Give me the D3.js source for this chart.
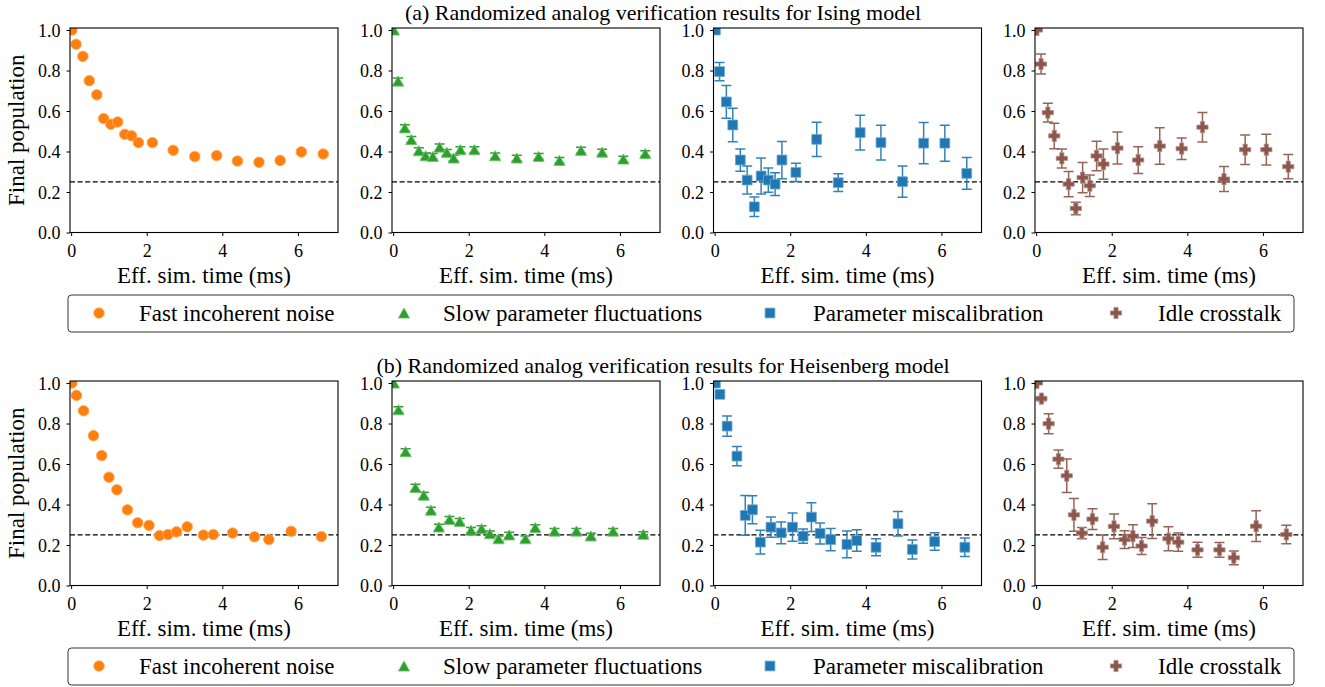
<!DOCTYPE html>
<html><head><meta charset="utf-8">
<script src="https://cdn.jsdelivr.net/npm/d3@7"></script>
<style>
body{margin:0;background:#fff;}
svg text{font-family:"Liberation Serif","DejaVu Serif",serif;fill:#000;}
</style></head><body>
<svg id="chart" width="1325" height="687"></svg>
<script>
// ---------------- DATA ----------------
const seriesNames = ["Fast incoherent noise", "Slow parameter fluctuations", "Parameter miscalibration", "Idle crosstalk"];
const seriesColors = ["#ff7f0e", "#2ca02c", "#1f77b4", "#8c564b"];
const rowTitles = ["(a) Randomized analog verification results for Ising model",
                   "(b) Randomized analog verification results for Heisenberg model"];
const xTicks = [0, 2, 4, 6];
const yTicks = [0.0, 0.2, 0.4, 0.6, 0.8, 1.0];
const baseline = 0.25;

// Ising model
const timesIsing = [0.02, 0.13, 0.31, 0.48, 0.68, 0.86, 1.05, 1.23, 1.42, 1.6, 1.78, 2.15, 2.7, 3.27, 3.85, 4.4, 4.97, 5.53, 6.09, 6.67];
const fastIsing = [1.0, 0.93, 0.87, 0.75, 0.68, 0.563, 0.535, 0.546, 0.485, 0.478, 0.444, 0.444, 0.406, 0.375, 0.38, 0.353, 0.347, 0.356, 0.398, 0.388];
const fastIsingErr = [0, 0.008, 0.008, 0.008, 0.008, 0.008, 0.008, 0.008, 0.008, 0.008, 0.008, 0.008, 0.008, 0.008, 0.008, 0.008, 0.008, 0.008, 0.008, 0.008];
const slowIsing = [1.0, 0.748, 0.517, 0.459, 0.404, 0.379, 0.376, 0.422, 0.396, 0.368, 0.409, 0.409, 0.379, 0.368, 0.376, 0.356, 0.406, 0.397, 0.363, 0.39];
const slowIsingErr = [0, 0.015, 0.015, 0.015, 0.015, 0.014, 0.014, 0.015, 0.014, 0.014, 0.015, 0.014, 0.014, 0.014, 0.014, 0.014, 0.015, 0.014, 0.014, 0.014];
const miscalIsing = [1.0, 0.795, 0.645, 0.531, 0.358, 0.259, 0.127, 0.279, 0.259, 0.239, 0.358, 0.297, 0.46, 0.246, 0.493, 0.444, 0.251, 0.441, 0.441, 0.292];
const miscalIsingErr = [0, 0.045, 0.081, 0.083, 0.055, 0.069, 0.048, 0.089, 0.06, 0.056, 0.092, 0.045, 0.085, 0.044, 0.086, 0.086, 0.077, 0.102, 0.089, 0.079];
const crossIsing = [1.0, 0.832, 0.592, 0.477, 0.366, 0.239, 0.119, 0.271, 0.231, 0.378, 0.338, 0.417, 0.358, 0.427, 0.414, 0.52, 0.264, 0.409, 0.409, 0.325];
const crossIsingErr = [0, 0.049, 0.046, 0.063, 0.047, 0.062, 0.031, 0.075, 0.053, 0.073, 0.075, 0.079, 0.066, 0.09, 0.053, 0.073, 0.062, 0.073, 0.076, 0.06];

// Heisenberg model
const timesHeis = [0.02, 0.14, 0.33, 0.59, 0.81, 1.0, 1.21, 1.49, 1.76, 2.06, 2.34, 2.56, 2.79, 3.07, 3.5, 3.76, 4.27, 4.85, 5.23, 5.82, 6.62];
const fastHeis = [1.0, 0.939, 0.863, 0.74, 0.642, 0.535, 0.473, 0.374, 0.31, 0.297, 0.247, 0.252, 0.265, 0.29, 0.249, 0.252, 0.259, 0.241, 0.227, 0.268, 0.242];
const fastHeisErr = [0, 0.008, 0.008, 0.008, 0.008, 0.008, 0.008, 0.008, 0.008, 0.008, 0.008, 0.008, 0.008, 0.008, 0.008, 0.008, 0.008, 0.008, 0.008, 0.008, 0.008];
const slowHeis = [1.0, 0.868, 0.661, 0.484, 0.446, 0.372, 0.289, 0.327, 0.317, 0.273, 0.281, 0.256, 0.231, 0.25, 0.231, 0.286, 0.269, 0.269, 0.245, 0.269, 0.253];
const slowHeisErr = [0, 0.015, 0.015, 0.016, 0.015, 0.015, 0.014, 0.014, 0.014, 0.014, 0.014, 0.013, 0.013, 0.013, 0.013, 0.014, 0.013, 0.013, 0.013, 0.013, 0.013];
const miscalHeis = [1.0, 0.944, 0.787, 0.639, 0.346, 0.374, 0.214, 0.288, 0.26, 0.288, 0.244, 0.338, 0.257, 0.227, 0.203, 0.222, 0.189, 0.305, 0.178, 0.217, 0.189];
const miscalHeisErr = [0, 0.01, 0.05, 0.048, 0.098, 0.069, 0.059, 0.05, 0.054, 0.07, 0.035, 0.071, 0.052, 0.055, 0.066, 0.053, 0.042, 0.061, 0.047, 0.043, 0.046];
const crossHeis = [1.0, 0.923, 0.799, 0.624, 0.542, 0.349, 0.259, 0.328, 0.189, 0.292, 0.227, 0.244, 0.195, 0.318, 0.231, 0.214, 0.176, 0.176, 0.137, 0.293, 0.252];
const crossHeisErr = [0, 0.01, 0.049, 0.045, 0.083, 0.081, 0.028, 0.051, 0.06, 0.061, 0.044, 0.056, 0.042, 0.086, 0.059, 0.045, 0.037, 0.036, 0.034, 0.076, 0.046];

// ---------------- LAYOUT ----------------
const rows = [
  { title: rowTitles[0], times: timesIsing,
    vals: [fastIsing, slowIsing, miscalIsing, crossIsing],
    errs: [fastIsingErr, slowIsingErr, miscalIsingErr, crossIsingErr] },
  { title: rowTitles[1], times: timesHeis,
    vals: [fastHeis, slowHeis, miscalHeis, crossHeis],
    errs: [fastHeisErr, slowHeisErr, miscalHeisErr, crossHeisErr] }
];
const svg = d3.select("#chart");
const PW = 268, PH = 204.5;
const panelLefts = [70, 392, 713.5, 1035];
const rowTops = [28, 381];
const xDomain = [-0.03, 7.06], yDomain = [0, 1.01];
const FONT_TICK = 18, FONT_LABEL = 23;

function lighten(c, k) { return d3.interpolateRgb(c, "#ffffff")(k); }

function markerPath(kind) {
  if (kind === 0) { const r = 5.3; return `M${r},0A${r},${r},0,1,1,${-r},0A${r},${r},0,1,1,${r},0Z`; }
  if (kind === 1) { const w = 5.6, h = 5.1; return `M0,${-h}L${w},${h}L${-w},${h}Z`; }
  if (kind === 2) { const s = 4.9; return `M${-s},${-s}H${s}V${s}H${-s}Z`; }
  const a = 5.6, b = 2.1;
  return `M${-b},${-a}H${b}V${-b}H${a}V${b}H${b}V${a}H${-b}V${b}H${-a}V${-b}H${-b}Z`;
}

rows.forEach((row, ri) => {
  const top = rowTops[ri];
  svg.append("text").attr("x", 663).attr("y", top - 8)
    .attr("text-anchor", "middle").style("font-size", "22px").text(row.title);

  row.vals.forEach((vals, ci) => {
    const left = panelLefts[ci];
    const color = seriesColors[ci];
    const x = d3.scaleLinear().domain(xDomain).range([left, left + PW]);
    const y = d3.scaleLinear().domain(yDomain).range([top + PH, top]);
    const g = svg.append("g");
    const clipId = `clip-${ri}-${ci}`;
    svg.append("clipPath").attr("id", clipId).append("rect")
      .attr("x", left).attr("y", top).attr("width", PW).attr("height", PH);

    // axes
    const xAx = d3.axisBottom(x).tickValues(xTicks).tickFormat(d3.format("d")).tickSize(3.5).tickSizeOuter(0).tickPadding(4);
    const yAx = d3.axisLeft(y).tickValues(yTicks).tickFormat(d3.format(".1f")).tickSize(3.5).tickSizeOuter(0).tickPadding(6);
    const gx = g.append("g").attr("transform", `translate(0,${top + PH})`).call(xAx);
    const gy = g.append("g").attr("transform", `translate(${left},0)`).call(yAx);
    [gx, gy].forEach(a => {
      a.attr("font-family", null).attr("font-size", null);
      a.select(".domain").remove();
      a.selectAll(".tick line").attr("stroke", "#000").attr("stroke-width", 1);
      a.selectAll(".tick text").style("font-size", FONT_TICK + "px").attr("fill", "#000");
    });
    gx.selectAll(".tick text").attr("dy", "0.95em");
    gy.selectAll(".tick text").attr("dy", "0.34em");

    const plot = g.append("g").attr("clip-path", `url(#${clipId})`);
    // reference line
    plot.append("line").attr("x1", left).attr("x2", left + PW)
      .attr("y1", y(baseline)).attr("y2", y(baseline))
      .attr("stroke", "#000").attr("stroke-width", 1.3).attr("stroke-dasharray", "5,2.6");

    const pts = vals.map((v, i) => ({ t: row.times[i], v, e: row.errs[ci][i] }));
    const ecol = ci >= 2 ? lighten(color, 0.08) : color;
    const eb = plot.selectAll(".eb").data(pts.filter(d => d.e > 0)).enter().append("g");
    eb.append("line").attr("x1", d => x(d.t)).attr("x2", d => x(d.t))
      .attr("y1", d => y(d.v - d.e)).attr("y2", d => y(d.v + d.e))
      .attr("stroke", ecol).attr("stroke-width", 1.5);
    [-1, 1].forEach(sg => {
      eb.append("line").attr("x1", d => x(d.t) - 5).attr("x2", d => x(d.t) + 5)
        .attr("y1", d => y(d.v + sg * d.e)).attr("y2", d => y(d.v + sg * d.e))
        .attr("stroke", ecol).attr("stroke-width", 1.5);
    });
    plot.selectAll(".mk").data(pts).enter().append("path")
      .attr("d", markerPath(ci))
      .attr("transform", d => `translate(${x(d.t)},${y(d.v)})`)
      .attr("fill", color).attr("stroke", lighten(color, 0.35)).attr("stroke-width", 0.8);

    // frame
    g.append("rect").attr("x", left).attr("y", top).attr("width", PW).attr("height", PH)
      .attr("fill", "none").attr("stroke", "#000").attr("stroke-width", 1.1);

    // x label
    g.append("text").attr("x", left + PW / 2).attr("y", top + 255)
      .attr("text-anchor", "middle").style("font-size", FONT_LABEL + "px").text("Eff. sim. time (ms)");
    if (ci === 0) {
      g.append("text").attr("transform", `translate(24,${top + PH / 2}) rotate(-90)`)
        .attr("text-anchor", "middle").style("font-size", FONT_LABEL + "px").text("Final population");
    }
  });

  // legend
  const ly = top + 267;
  const lg = svg.append("g");
  lg.append("rect").attr("x", 68).attr("y", ly).attr("width", 1226).attr("height", 37)
    .attr("rx", 3.5).attr("fill", "#fff").attr("stroke", "#333").attr("stroke-width", 1);
  const legX = [99, 404, 770, 1116];
  const legTextX = [139, 443, 813, 1158];
  seriesNames.forEach((name, i) => {
    lg.append("path").attr("d", markerPath(i))
      .attr("transform", `translate(${legX[i]},${ly + 18})`)
      .attr("fill", seriesColors[i]).attr("stroke", lighten(seriesColors[i], 0.35)).attr("stroke-width", 0.8);
    lg.append("text").attr("x", legTextX[i]).attr("y", ly + 25.5)
      .style("font-size", FONT_LABEL + "px").text(name);
  });
});
</script>
</body></html>
